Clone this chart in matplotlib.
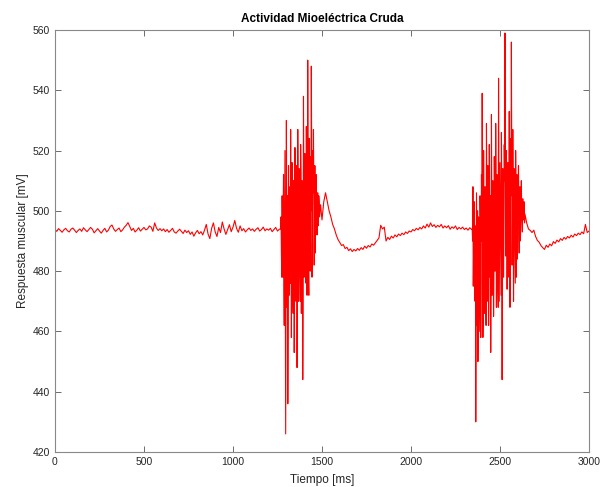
import numpy as np
import matplotlib
matplotlib.use('Agg')
import matplotlib.pyplot as plt

# raw EMG trace in segments (start ms, step ms, values mV)
rest1_start, rest1_step = 0, 10
rest1 = [493.8, 493.2, 494.1, 493.5, 492.9, 493.7, 494.2, 493.4, 493.0, 493.9,
         494.3, 493.6, 492.8, 493.5, 494.0, 493.2, 494.4, 493.7, 493.1, 493.8,
         494.5, 493.9, 492.7, 493.4, 494.1, 493.3, 492.6, 493.5, 494.2, 493.0,
         493.6, 494.8, 495.3, 494.0, 493.2, 493.8, 494.3, 493.1, 493.7, 494.6,
         495.2, 496.1, 494.8, 493.5, 494.2, 493.0, 493.6, 494.4, 493.3, 493.9,
         494.5, 493.7, 494.0, 495.0, 494.6, 493.2, 496.0, 494.3, 493.5, 494.1,
         493.4, 494.0, 493.1, 493.8, 492.9, 493.5, 494.2, 493.0, 492.6, 493.3,
         493.9, 493.2, 492.5, 493.6, 492.8, 493.4, 492.2, 493.0, 491.6, 492.7,
         493.5, 492.4, 493.1, 492.0, 493.6, 495.5, 492.3, 490.8, 494.2, 496.0,
         493.0, 491.5, 494.5, 492.8, 496.3, 494.0, 492.2, 493.8, 495.4, 493.1,
         494.6, 496.8, 494.2, 492.9, 495.0, 493.4, 494.1, 493.0, 493.7, 494.3,
         493.5, 494.0, 493.2, 493.9, 494.4, 493.3, 493.8, 494.6, 493.4, 494.0,
         493.6, 494.2, 493.1, 493.8, 494.5, 493.3, 493.9]

burst1_start, burst1_step = 1268, 2
burst1 = [494, 498, 486, 478, 505, 492, 478, 500, 512, 475,
          462, 490, 520, 470, 426, 482, 530, 490, 468, 505,
          436, 468, 515, 488, 472, 498, 508, 476, 527, 496,
          458, 480, 516, 500, 474, 466, 510, 494, 453, 476,
          521, 502, 480, 470, 505, 515, 448, 490, 527, 508,
          470, 485, 514, 504, 483, 470, 522, 512, 466, 480,
          510, 496, 444, 472, 538, 510, 478, 492, 519, 506,
          485, 476, 528, 512, 472, 488, 550, 518, 480, 472,
          524, 510, 488, 480, 518, 500, 548, 520, 478, 492,
          520, 506, 527, 508, 482, 498, 515, 486, 496, 508,
          512, 500, 492, 502, 506, 495, 497, 505, 503, 498,
          499, 501, 502]

rest2_start, rest2_step = 1500, 10
rest2 = [497, 503, 506, 503, 500, 498, 495.5, 494, 492, 490.5,
         489.5, 488.5, 488.8, 487.5, 487.9, 486.8, 487.4, 486.5, 487.2, 486.7,
         487.5, 486.9, 487.8, 487.2, 488.3, 487.6, 488.5, 488.0, 489.0, 488.6,
         489.4, 490.2, 491.0, 495.2, 494.0, 494.6, 490.0, 491.2, 490.5, 491.6,
         491.0, 492.0, 491.4, 492.3, 491.8, 492.6, 492.1, 493.0, 492.5, 493.3,
         493.0, 493.8, 493.4, 494.2, 493.7, 494.5, 494.0, 495.0, 494.3, 495.6,
         494.6, 496.0, 494.8, 495.4, 494.5, 495.2, 494.7, 495.5, 494.3, 495.0,
         494.4, 495.1, 493.9, 494.7, 494.2, 495.0, 493.8, 494.5, 494.0, 494.6,
         493.8, 494.3, 493.6, 494.4, 493.9]

burst2_start, burst2_step = 2344, 2
burst2 = [494, 490, 508, 475, 488, 500, 503, 480, 470, 495,
          430, 470, 506, 485, 462, 500, 450, 465, 498, 485,
          472, 460, 505, 495, 458, 478, 512, 490, 539, 505,
          458, 470, 520, 495, 466, 480, 508, 498, 475, 462,
          529, 505, 470, 488, 515, 500, 462, 476, 522, 498,
          478, 505, 453, 480, 532, 500, 472, 486, 510, 492,
          465, 480, 518, 506, 480, 495, 529, 512, 468, 490,
          512, 500, 476, 468, 544, 510, 470, 494, 516, 500,
          483, 472, 526, 505, 444, 488, 514, 500, 478, 492,
          522, 510, 559, 515, 485, 500, 520, 505, 474, 496,
          516, 478, 490, 510, 533, 515, 468, 492, 524, 505,
          556, 520, 482, 498, 527, 510, 470, 488, 514, 502,
          488, 476, 520, 505, 478, 496, 512, 484, 492, 506,
          515, 498, 486, 495, 508, 490, 493, 502, 510, 499,
          496, 493, 504, 500, 497, 500, 503, 496, 499]

rest3_start, rest3_step = 2650, 10
rest3 = [496, 494, 493.5, 492.8, 493.6, 491.5, 490.2, 489.6, 488.5, 487.8,
         487.2, 488.6, 487.9, 489.0, 488.4, 489.8, 489.2, 490.3, 489.7, 490.8,
         490.2, 491.2, 490.6, 491.5, 491.0, 491.9, 491.3, 492.3, 491.8, 492.6,
         492.1, 493.0, 492.4, 495.5, 492.8, 493.3]

segments = [(rest1_start, rest1_step, rest1), (burst1_start, burst1_step, burst1),
            (rest2_start, rest2_step, rest2), (burst2_start, burst2_step, burst2),
            (rest3_start, rest3_step, rest3)]

t = np.concatenate([start + step * np.arange(len(v)) for start, step, v in segments])
emg = np.concatenate([np.array(v, dtype=float) for _, _, v in segments])

plt.rcParams['font.family'] = ['Liberation Sans', 'DejaVu Sans']
gray = '#262626'

fig = plt.figure(figsize=(6.01, 4.87), dpi=100)
ax = fig.add_axes([0.0915, 0.0719, 0.8885, 0.8665])
ax.plot(t, emg, color='red', linewidth=0.8)

ax.set_xlim(0, 3000)
ax.set_ylim(420, 560)
ax.set_xticks(np.arange(0, 3001, 500))
ax.set_yticks(np.arange(420, 561, 20))
ax.tick_params(direction='in', top=True, right=True, length=4, width=0.6,
               colors='#555555', labelcolor=gray, labelsize=7.5)
for s in ax.spines.values():
    s.set_color('#888888')
    s.set_linewidth(0.8)

ax.set_title('Actividad Mioeléctrica Cruda', fontsize=8.5, fontweight='bold', color='black', pad=6)
ax.set_xlabel('Tiempo [ms]', fontsize=8.5, color=gray, labelpad=5)
ax.set_ylabel('Respuesta muscular [mV]', fontsize=8.5, color=gray, labelpad=3)

fig.savefig('out.png', dpi=100)
plt.close(fig)
